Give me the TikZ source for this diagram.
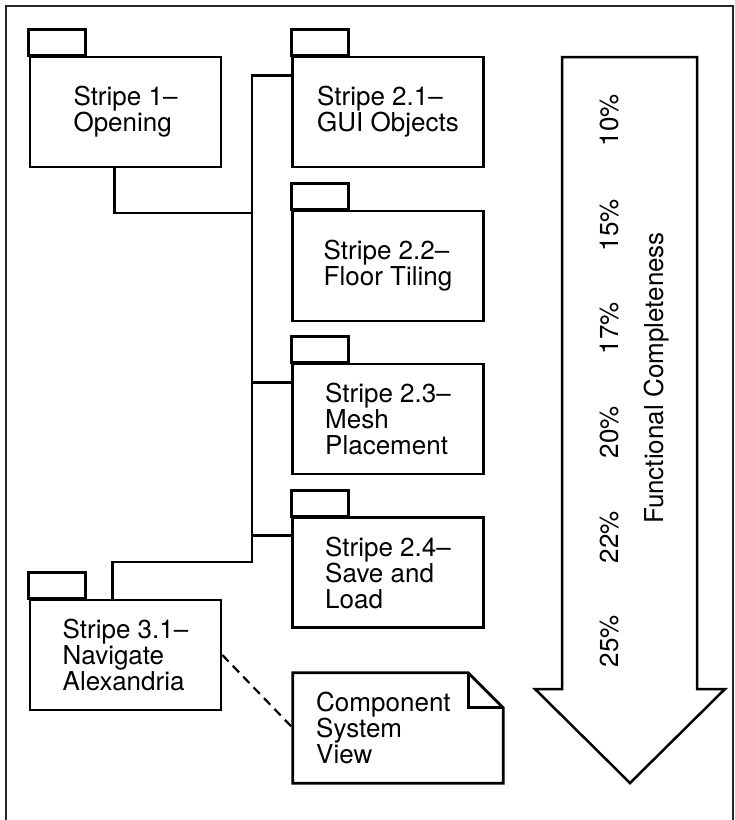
\documentclass[tikz,border=0pt]{standalone}
\usepackage{fontspec}
\setmainfont{TeX Gyre Heros}
\begin{document}
\begin{tikzpicture}[x=1pt,y=-1pt,
  pkg/.style={draw,line width=2.7pt,minimum width=191pt,minimum height=110pt,inner sep=0pt,
    align=left,font=\fontsize{26}{26}\selectfont},
  tab/.style={draw,line width=2.7pt},
  wire/.style={draw,line width=2.7pt},
  pct/.style={rotate=90,font=\fontsize{26}{26}\selectfont,inner sep=0pt},
  txt/.style={font=\fontsize{26}{26}\selectfont,align=left,inner sep=0pt}]
\useasboundingbox (0,0) rectangle (735,820);
% frame
\draw[line width=1.6pt,black!85] (6,820) -- (6,6) -- (733,6) -- (733,820);
% packages
\node[pkg] (p1)  at (125.5,112) {Stripe 1–\\Opening};
\node[pkg] (p21) at (388,112) {Stripe 2.1–\\GUI Objects};
\node[pkg] (p22) at (388,266) {Stripe 2.2–\\Floor Tiling};
\node[pkg] (p23) at (388,419) {Stripe 2.3–\\Mesh\\Placement};
\node[pkg] (p24) at (388,572.5) {Stripe 2.4–\\Save and\\Load};
\node[pkg] (p31) at (125.5,655) {Stripe 3.1–\\Navigate\\Alexandria};
\foreach \p in {p1,p21,p22,p23,p24,p31}
  \draw[tab] (\p.north west) rectangle ++(57,-26);
% connectors
\coordinate (tb) at (252,562);
\coordinate (j1) at (252,213);
\coordinate (b21) at ([yshift=-20pt]p21.north west);
\coordinate (b23) at ([yshift=-20pt]p23.north west);
\coordinate (b24) at ([yshift=-19pt]p24.north west);
\coordinate (b31) at ([xshift=84pt]p31.north west);
\coordinate (b1) at ([xshift=86pt]p1.south west);
\draw[wire,line join=miter] (b21) -| (tb) -| (b31);
\draw[wire,line join=miter] (b1) |- (j1);
\draw[wire] (b23) -- (tb |- b23);
\draw[wire] (b24) -- (tb |- b24);
% note
\node[minimum width=210pt,minimum height=110pt,inner sep=0pt] (note) at (398,728) {};
\draw[line width=2.7pt,line join=miter]
  (note.north west) -- ([xshift=-35pt]note.north east) -- ([yshift=-35pt]note.north east)
  -- (note.south east) -- (note.south west) -- cycle;
\draw[line width=2.7pt,line join=miter] ([xshift=-35pt]note.north east) |- ([yshift=-35pt]note.north east);
\node[txt,anchor=west] (notetext) at (316,728) {Component\\System\\View};
\draw[line width=2.2pt,dash pattern=on 9pt off 6pt] (p31.east) -- (note.west);
% arrow
\draw[line width=2.5pt,line join=miter] (562,57) -- (697,57) -- (697,689) -- (725,689)
  -- (630,783) -- (535,689) -- (562,689) -- cycle;
\node[pct] (c10) at (610,120) {10\%};
\node[pct] (c15) at (610,225) {15\%};
\node[pct] (c17) at (610,328) {17\%};
\node[pct] (c20) at (610,432) {20\%};
\node[pct] (c22) at (610,537) {22\%};
\node[pct] (c25) at (610,641) {25\%};
\node[pct] (fc) at (657,378) {Functional Completeness};
\end{tikzpicture}
\end{document}
